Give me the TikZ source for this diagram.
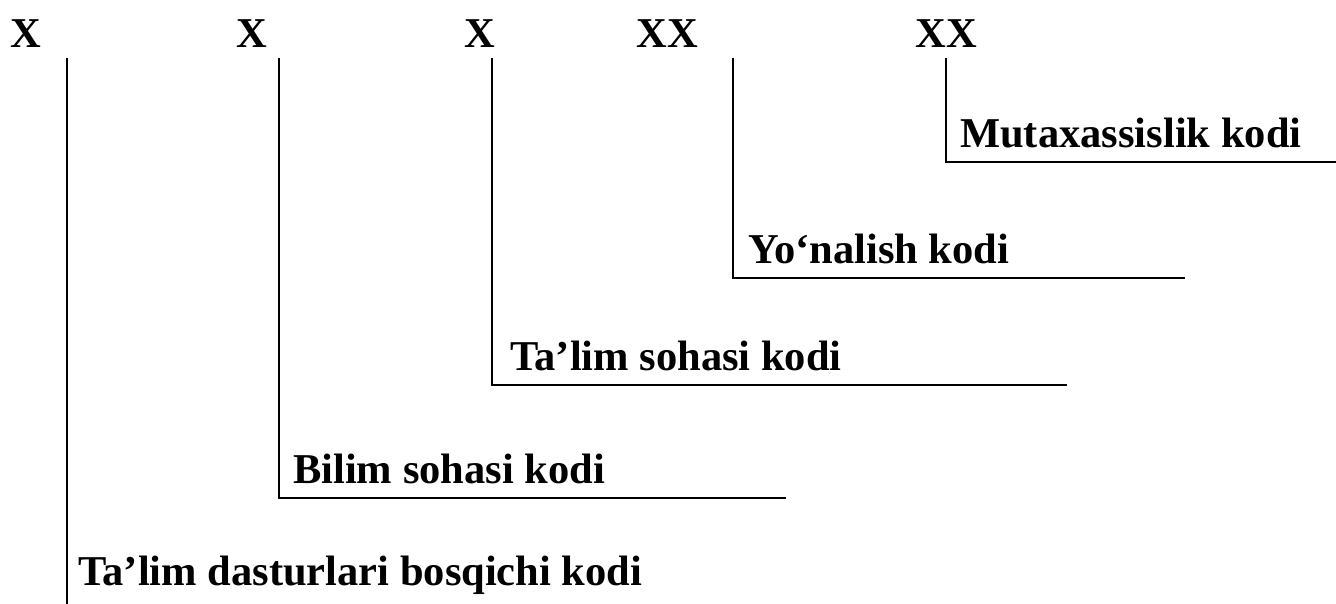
\documentclass[tikz,border=0pt]{standalone}
\usepackage{fontspec}
\setmainfont{Liberation Serif}
\begin{document}
\begin{tikzpicture}[x=1pt,y=-1pt,
  lbl/.style={inner sep=0pt,anchor=base west,font=\fontsize{42.5}{50}\selectfont\bfseries},
  code/.style={inner sep=0pt,anchor=base,font=\fontsize{42.5}{50}\selectfont\bfseries},
  conn/.style={line width=2.8pt,line cap=butt}]
\path[use as bounding box] (0,0) rectangle (1336,604);
% code letters
\node[code] (c1) at (26,48) {X};
\node[code] (c2) at (252,48) {X};
\node[code] (c3) at (480,48) {X};
\node[code] (c4) at (667,48) {XX};
\node[code] (c5) at (946,48) {XX};
% line tops
\coordinate (t1) at (67,58);
\coordinate (t2) at (279,58);
\coordinate (t3) at (492,58);
\coordinate (t4) at (733,58);
\coordinate (t5) at (946,58);
% line ends
\coordinate (e1) at (67,604);
\coordinate (e2) at (786,498);
\coordinate (e3) at (1067,385);
\coordinate (e4) at (1185,278);
\coordinate (e5) at (1336,162);
% labels
\node[lbl] (l5) at (960,148) {Mutaxassislik kodi};
\node[lbl] (l4) at (748,263) {Yo‘nalish kodi};
\node[lbl] (l3) at (510,370) {Ta’lim sohasi kodi};
\node[lbl] (l2) at (293,483) {Bilim sohasi kodi};
\node[lbl] (l1) at (78,585) {Ta’lim dasturlari bosqichi kodi};
% connectors
\draw[conn] (t1) -- (e1);
\draw[conn] (t2) |- (e2);
\draw[conn] (t3) |- (e3);
\draw[conn] (t4) |- (e4);
\draw[conn] (t5) |- (e5);
\end{tikzpicture}
\end{document}
